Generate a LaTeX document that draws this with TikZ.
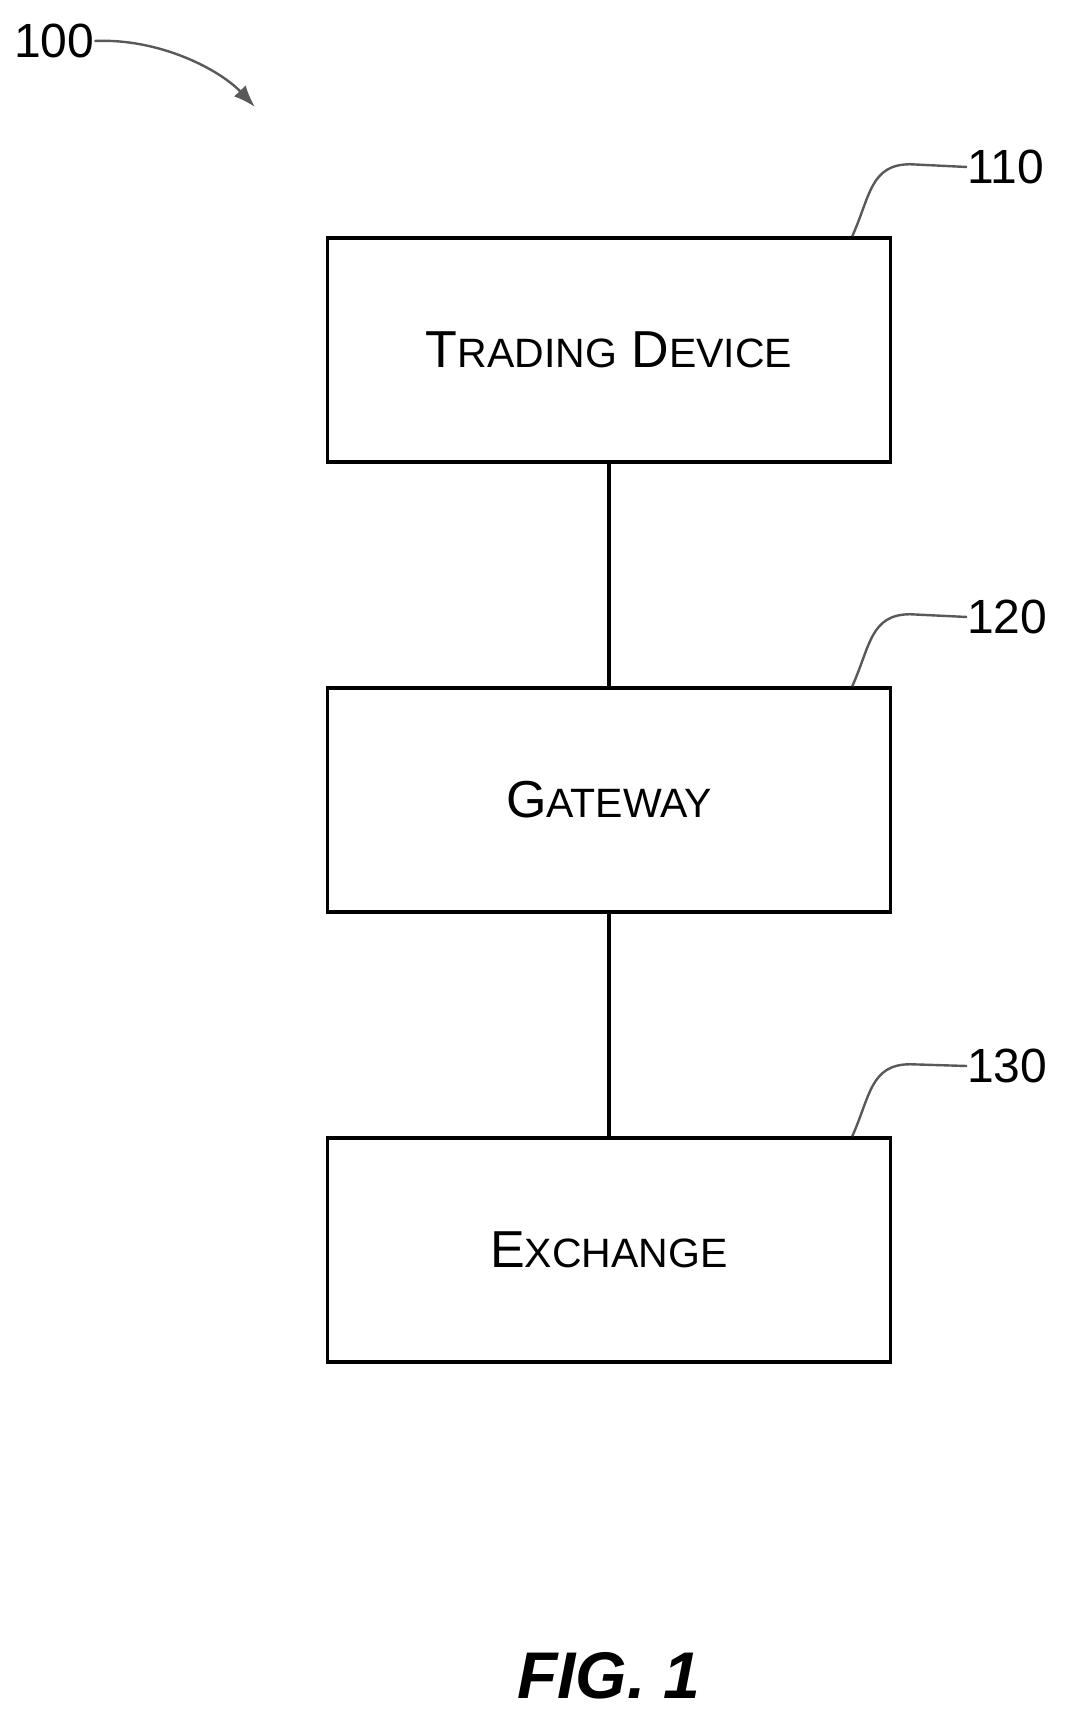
\documentclass[tikz,border=0pt]{standalone}
\usepackage{fontspec}
\usetikzlibrary{arrows.meta}
\setmainfont{Liberation Sans}
\newcommand{\sck}[2]{#1{\fontsize{41}{41}\selectfont #2}}
\begin{document}
\begin{tikzpicture}[x=1pt,y=-1pt,
  box/.style={draw,line width=3.5pt,minimum width=563pt,minimum height=224pt,font=\fontsize{52}{52}\selectfont},
  lbl/.style={font=\fontsize{48}{48}\selectfont,anchor=west,inner sep=0pt},
  lead/.style={draw=gray!70!black,line width=2.4pt}]
\useasboundingbox (0,0) rectangle (1068,1729);
\node[box] (b1) at (609,350) {\sck{T}{RADING} \sck{D}{EVICE}};
\node[box] (b2) at (609,800) {\sck{G}{ATEWAY}};
\node[box] (b3) at (609,1250) {\sck{E}{XCHANGE}};
\draw[line width=3.5pt] (b1.south) -- (b2.north);
\draw[line width=3.5pt] (b2.south) -- (b3.north);
\foreach \n/\b/\y in {110/b1/167,120/b2/617,130/b3/1066}{
  \node[lbl] (l\n) at (967,\y) {\n};
  \coordinate (s\n) at ([xshift=-40pt]\b.north east);
  \draw[lead] (s\n) .. controls ([xshift=18pt,yshift=40pt]s\n) and ([xshift=18pt,yshift=72pt]s\n) .. ([xshift=58pt,yshift=72pt]s\n) -- (l\n.west);
}
\node[lbl] (l100) at (14,41) {100};
\coordinate (a100) at (255,107);
\draw[lead,-{Latex[length=22pt,width=16pt]}] (l100.east) .. controls (160,38) and (220,70) .. (a100);
\node[font=\fontsize{66}{66}\selectfont\bfseries\itshape] (fig) at (609,1676) {FIG. 1};
\end{tikzpicture}
\end{document}
